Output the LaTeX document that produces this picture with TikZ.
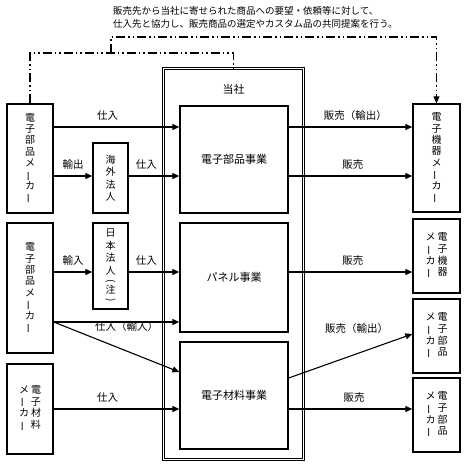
\documentclass[tikz,border=0pt]{standalone}
\usepackage{fontspec}
\setmainfont{Noto Sans CJK JP}
\usepackage{graphicx}
\usetikzlibrary{arrows.meta,calc}

% glyphs turned for vertical writing
\newcommand{\tbar}{\rotatebox[origin=c]{90}{ー}}
\newcommand{\tlp}{\rotatebox[origin=c]{-90}{(}}
\newcommand{\trp}{\rotatebox[origin=c]{-90}{)}}

\begin{document}
\begin{tikzpicture}[x=1pt, y=-1pt,
    box/.style={draw, line width=1.3pt, inner sep=0pt, align=center, font=\fontsize{10}{11.4}\selectfont},
    unit/.style={draw, line width=1.3pt, inner sep=0pt, font=\fontsize{11}{13}\selectfont},
    flow/.style={line width=1.1pt, -{Triangle[length=7pt,width=6pt]}},
    lbl/.style={font=\fontsize{10.5}{12}\selectfont, inner sep=1pt, above=5pt},
    memo/.style={line width=1.2pt, dash pattern=on 9pt off 3pt on 1.5pt off 3pt on 1.5pt off 3pt}]
    \useasboundingbox (0,0) rectangle (467,468);

    % the note on top
    \node[anchor=north west, align=left, inner sep=0pt, font=\fontsize{9.5}{13.5}\selectfont] (note) at (113,6)
        {販売先から当社に寄せられた商品への要望・依頼等に対して、\\仕入先と協力し、販売商品の選定やカスタム品の共同提案を行う。};

    % the company and its businesses
    \node[draw, double, double distance=1.6pt, line width=0.9pt, minimum width=140pt, minimum height=391pt, inner sep=0pt] (frame) at (233.5,264) {};
    \node[font=\fontsize{11}{13}\selectfont] (firm) at (233.5,89) {当社};
    \node[unit, minimum width=108pt, minimum height=107pt] (bizA) at (234,159.5) {電子部品事業};
    \node[unit, minimum width=108pt, minimum height=109pt] (bizB) at (234,277.5) {パネル事業};
    \node[unit, minimum width=108pt, minimum height=107pt] (bizC) at (234,395.5) {電子材料事業};

    % suppliers on the left
    \node[box, minimum width=46pt, minimum height=109pt] (mkA) at (30,158.5) {電\\子\\部\\品\\メ\\\tbar\\カ\\\tbar};
    \node[box, minimum width=46pt, minimum height=130pt] (mkB) at (30,288) {電\\子\\部\\品\\メ\\\tbar\\カ\\\tbar};
    \node[box, minimum width=46pt, minimum height=90pt] (mkC) at (30,409)
        {\begin{tabular}{@{}c@{\hspace{2pt}}c@{}}メ&電\\\tbar&子\\カ&材\\\tbar&料\end{tabular}};

    % subsidiaries
    \node[box, font=\fontsize{10}{12.5}\selectfont, minimum width=35pt, minimum height=70pt] (ovs) at (110.5,178) {海\\外\\法\\人};
    \node[box, font=\fontsize{10}{12.5}\selectfont, minimum width=35pt, minimum height=86pt] (jpn) at (110.5,266)
        {日\\本\\法\\人\\[-3pt]\tlp\\[-3pt]注\\[-3pt]\trp};

    % customers on the right
    \node[box, minimum width=47pt, minimum height=108pt] (mkD) at (436.5,158) {電\\子\\機\\器\\メ\\\tbar\\カ\\\tbar};
    \node[box, minimum width=47pt, minimum height=74pt] (mkE) at (436.5,256)
        {\begin{tabular}{@{}c@{\hspace{2pt}}c@{}}メ&電\\\tbar&子\\カ&機\\\tbar&器\end{tabular}};
    \node[box, minimum width=47pt, minimum height=74pt] (mkF) at (436.5,336)
        {\begin{tabular}{@{}c@{\hspace{2pt}}c@{}}メ&電\\\tbar&子\\カ&部\\\tbar&品\end{tabular}};
    \node[box, minimum width=47pt, minimum height=74pt] (mkG) at (436.5,415)
        {\begin{tabular}{@{}c@{\hspace{2pt}}c@{}}メ&電\\\tbar&子\\カ&部\\\tbar&品\end{tabular}};

    % heights of the flows
    \coordinate (rowA) at (0,127);
    \coordinate (rowB) at (0,176);
    \coordinate (rowC) at (0,272);
    \coordinate (rowD) at (0,322);
    \coordinate (rowE) at (0,409);
    \coordinate (rowF) at (0,372);
    \coordinate (rowG) at (0,378);
    \coordinate (rowH) at (0,334);

    % the flows
    \draw[flow] (mkA.east |- rowA) -- node[lbl, pos=.43] {仕入} (bizA.west |- rowA);
    \draw[flow] (bizA.east |- rowA) -- node[lbl, pos=.54] {販売（輸出）} (mkD.west |- rowA);
    \draw[flow] (mkA.east |- rowB) -- node[lbl] {輸出} (ovs.west |- rowB);
    \draw[flow] (ovs.east |- rowB) -- node[lbl, pos=.35] {仕入} (bizA.west |- rowB);
    \draw[flow] (bizA.east |- rowB) -- node[lbl, pos=.52] {販売} (mkD.west |- rowB);
    \draw[flow] (mkB.east |- rowC) -- node[lbl] {輸入} (jpn.west |- rowC);
    \draw[flow] (jpn.east |- rowC) -- node[lbl, pos=.35] {仕入} (bizB.west |- rowC);
    \draw[flow] (bizB.east |- rowC) -- node[lbl, pos=.52] {販売} (mkE.west |- rowC);
    \draw[flow] (mkB.east |- rowD) -- node[lbl, below=3pt, pos=.58] {仕入（輸入）} (bizB.west |- rowD);
    \draw[flow] (mkB.east |- rowD) -- (bizC.west |- rowF);
    \draw[flow] (mkC.east |- rowE) -- node[lbl, pos=.43] {仕入} (bizC.west |- rowE);
    \draw[flow] (bizC.east |- rowE) -- node[lbl, pos=.53] {販売} (mkG.west |- rowE);
    \draw[flow] (bizC.east |- rowG) -- node[lbl, pos=.55, above=14pt] {販売（輸出）} (mkF.west |- rowH);

    % the dash-dot lines of the note
    \coordinate (fork) at (111,53);
    \coordinate (bend) at (111,37);
    \draw[memo] (mkA.north) |- (fork) -| (frame.north);
    \draw[memo, -{Triangle[length=7pt,width=6pt]}] (fork) -- (bend) -| (mkD.north);
\end{tikzpicture}
\end{document}
